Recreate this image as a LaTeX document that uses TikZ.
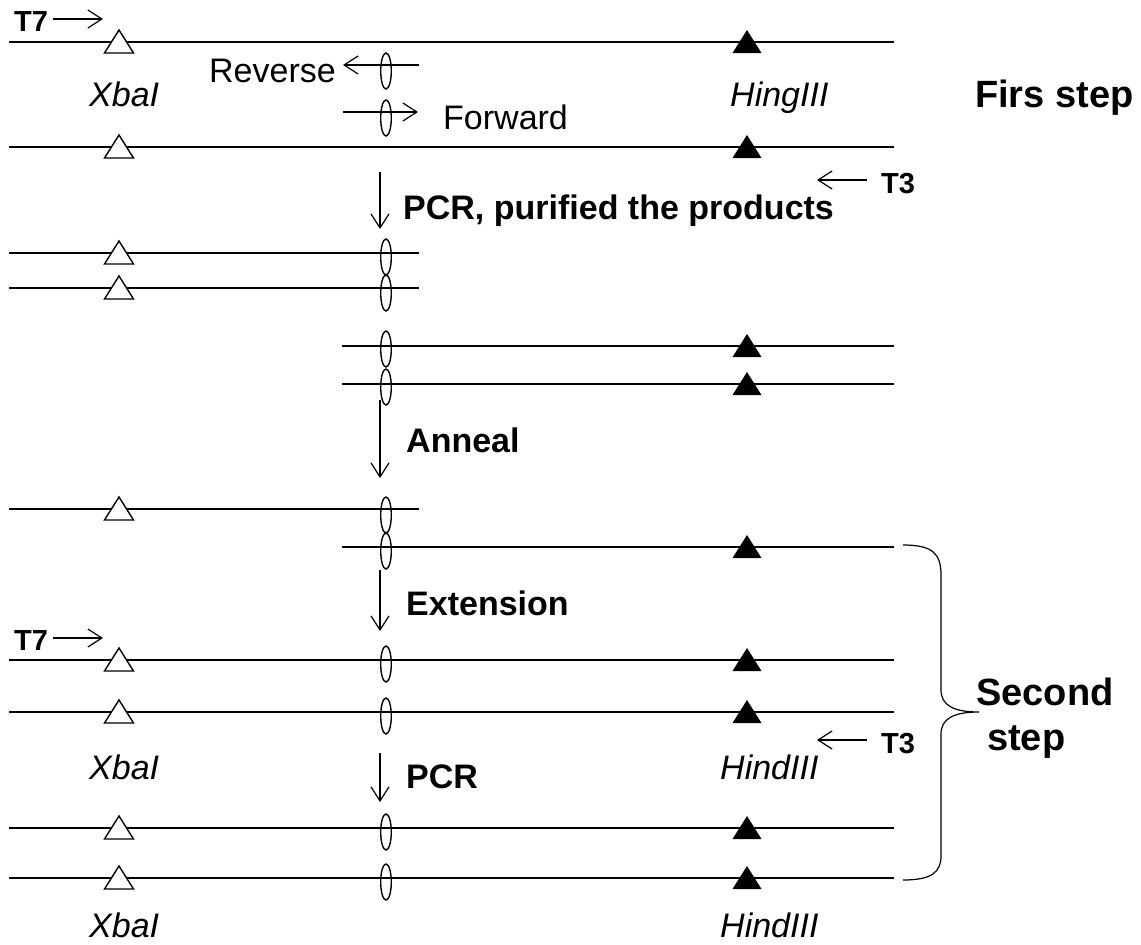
\documentclass[tikz,border=0pt]{standalone}
\usepackage{fontspec}
\setmainfont{Liberation Sans}
\usetikzlibrary{arrows.meta}

\tikzset{
  strand/.style={line width=1.5pt},
  barb/.style={-{Straight Barb[length=14pt,width=18pt,line width=1.2pt]}},
  primer/.style={line width=1.2pt, barb},
  stepdown/.style={line width=1.2pt, barb},
  site/.style={font=\fontsize{34}{40}\selectfont\itshape, anchor=base west, inner sep=0pt},
  label/.style={font=\fontsize{34}{40}\selectfont, inner sep=0pt},
  stage/.style={font=\fontsize{34}{40}\selectfont\bfseries, anchor=base west, inner sep=0pt},
  tag/.style={font=\fontsize{29}{34}\selectfont\bfseries, anchor=base west, inner sep=0pt},
  title/.style={font=\fontsize{38}{44}\selectfont\bfseries, anchor=base west, inner sep=0pt},
  xsite/.pic={\draw[line width=1.4pt, fill=white, line join=miter]
      (-14.5,11) -- (0,-12) -- (14.5,11) -- cycle;},
  hsite/.pic={\fill (-14.5,11) -- (0,-12) -- (14.5,11) -- cycle;},
  mut/.pic={\draw[line width=1.4pt] (0,4) ellipse [x radius=5.3, y radius=18];}
}

\begin{document}
\begin{tikzpicture}[x=1pt,y=-1pt]
\useasboundingbox (0,0) rectangle (1141,945);

% ---- first step: templates and primers ----
\coordinate (t7a) at (53,19);   \coordinate (t7b) at (103,19);
\draw[primer] (t7a) -- (t7b);
\node[tag] (T7top) at (14,31) {T7};

\draw[strand] (9,42) -- (894,42);
\pic at (119,42) {xsite};
\pic at (747,42) {hsite};

\coordinate (rvs) at (419,65); \coordinate (rve) at (343,65);
\draw[primer] (rvs) -- (rve);
\pic at (386,67) {mut};
\node[label, anchor=base east] (rev) at (336,82) {Reverse};

\coordinate (fws) at (343,112); \coordinate (fwe) at (418,112);
\draw[primer] (fws) -- (fwe);
\pic at (386,114) {mut};
\node[label, anchor=base west] (fwd) at (443,129) {Forward};

\node[site] (xba1) at (89,106) {XbaI};
\node[site] (hin1) at (730,106) {HingIII};
\node[title] (first) at (975,107) {Firs step};

\draw[strand] (9,147) -- (894,147);
\pic at (119,147) {xsite};
\pic at (747,147) {hsite};

\coordinate (t3a) at (867,180); \coordinate (t3b) at (817,180);
\draw[primer] (t3a) -- (t3b);
\node[tag] (T3top) at (881,193) {T3};

% ---- PCR products ----
\coordinate (d1a) at (380,172); \coordinate (d1b) at (380,229);
\draw[stepdown] (d1a) -- (d1b);
\node[stage] (pcr1) at (403,219) {PCR, purified the products};

\draw[strand] (9,253) -- (419,253);
\pic at (119,253) {xsite};
\pic at (386,253) {mut};
\draw[strand] (9,288) -- (419,288);
\pic at (119,288) {xsite};
\pic at (386,289) {mut};

\draw[strand] (342,346) -- (894,346);
\pic at (386,345) {mut};
\pic at (747,346) {hsite};
\draw[strand] (342,384) -- (894,384);
\pic at (386,383) {mut};
\pic at (747,384) {hsite};

% ---- annealing ----
\coordinate (d2a) at (380,400); \coordinate (d2b) at (380,478);
\draw[stepdown] (d2a) -- (d2b);
\node[stage] (ann) at (406,452) {Anneal};

\draw[strand] (9,509) -- (419,509);
\pic at (119,509) {xsite};
\pic at (386,511) {mut};
\draw[strand] (342,547) -- (894,547);
\pic at (386,547) {mut};
\pic at (747,547) {hsite};

% ---- extension ----
\coordinate (d3a) at (380,570); \coordinate (d3b) at (380,631);
\draw[stepdown] (d3a) -- (d3b);
\node[stage] (ext) at (406,615) {Extension};

\coordinate (t7c) at (53,638); \coordinate (t7d) at (103,638);
\draw[primer] (t7c) -- (t7d);
\node[tag] (T7bot) at (14,650) {T7};

\draw[strand] (9,660) -- (894,660);
\pic at (119,660) {xsite};
\pic at (386,660) {mut};
\pic at (747,660) {hsite};
\draw[strand] (9,712) -- (894,712);
\pic at (119,712) {xsite};
\pic at (386,712) {mut};
\pic at (747,712) {hsite};

\coordinate (t3c) at (867,740); \coordinate (t3d) at (817,740);
\draw[primer] (t3c) -- (t3d);
\node[tag] (T3bot) at (881,753) {T3};

\node[site] (xba2) at (89,779) {XbaI};
\node[site] (hin2) at (720,779) {HindIII};

% ---- final PCR ----
\coordinate (d4a) at (380,753); \coordinate (d4b) at (380,802);
\draw[stepdown] (d4a) -- (d4b);
\node[stage] (pcr2) at (406,788) {PCR};

\draw[strand] (9,828) -- (894,828);
\pic at (119,828) {xsite};
\pic at (386,828) {mut};
\pic at (747,828) {hsite};
\draw[strand] (9,878) -- (894,878);
\pic at (119,878) {xsite};
\pic at (386,878) {mut};
\pic at (747,878) {hsite};

\node[site] (xba3) at (89,937) {XbaI};
\node[site] (hin3) at (720,937) {HindIII};

% ---- brace for the second step ----
\coordinate (bt) at (903,545); \coordinate (bm) at (979,712); \coordinate (bb) at (903,880);
\draw[line width=1.2pt] (bt) .. controls (932,545) and (941,553) .. (941,575)
  -- (941,690) .. controls (941,705) and (953,712) .. (bm)
  .. controls (953,712) and (941,719) .. (941,734)
  -- (941,856) .. controls (941,872) and (932,880) .. (bb);
\node[title] (second) at (976,705) {Second};
\node[title] (secondb) at (987,750) {step};
\end{tikzpicture}
\end{document}
